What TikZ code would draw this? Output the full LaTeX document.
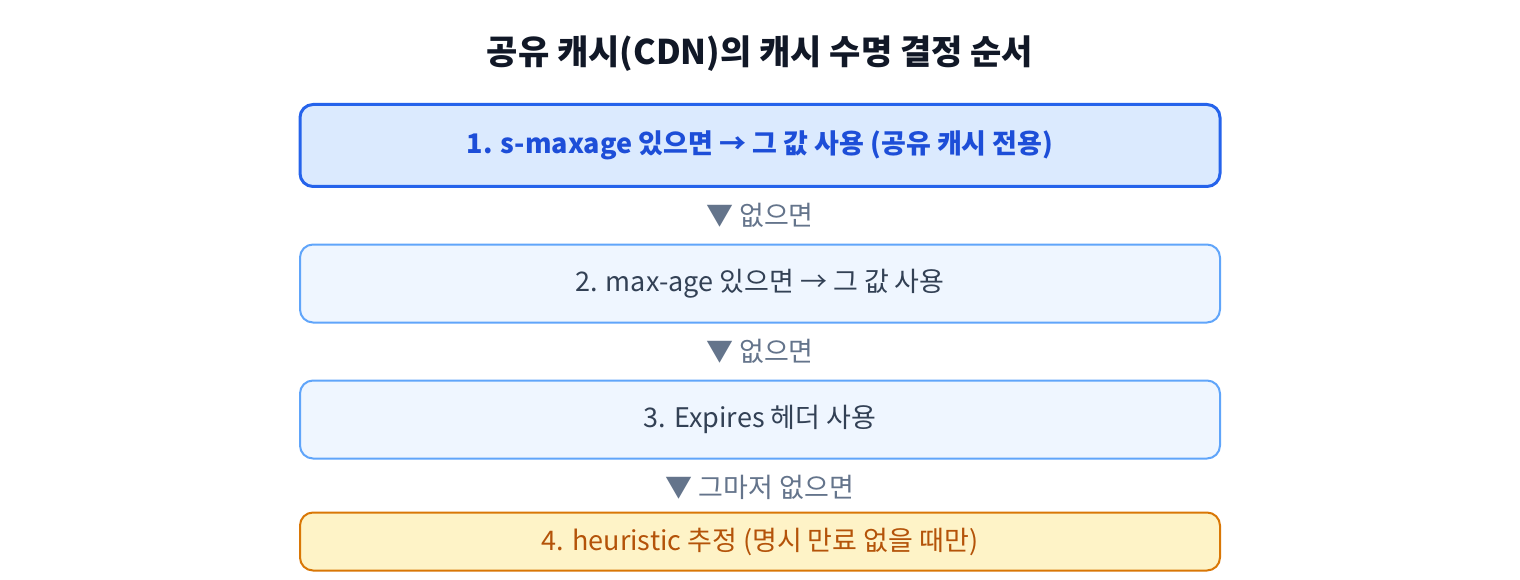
\documentclass[tikz,border=0pt]{standalone}
\usepackage{fontspec}
\setmainfont{Noto Sans CJK KR}
\definecolor{titlec}{HTML}{111827}
\definecolor{b1fill}{HTML}{DBEAFE}
\definecolor{b1draw}{HTML}{2563EB}
\definecolor{b1text}{HTML}{1D4ED8}
\definecolor{b2fill}{HTML}{EFF6FF}
\definecolor{b2draw}{HTML}{60A5FA}
\definecolor{b2text}{HTML}{334155}
\definecolor{b4fill}{HTML}{FEF3C7}
\definecolor{b4draw}{HTML}{D97706}
\definecolor{b4text}{HTML}{B45309}
\definecolor{labc}{HTML}{64748B}
\newcommand{\lowtxt}[1]{\raisebox{-2.5pt}{#1}}
\tikzset{
  stepbox/.style={rounded corners=13pt, minimum width=920pt, inner sep=0pt, font=\fontsize{27}{32}\selectfont},
  firstbox/.style={stepbox, draw=b1draw, fill=b1fill, line width=3pt, text=b1text, minimum height=82pt, font=\fontsize{27}{32}\selectfont\bfseries},
  midbox/.style={stepbox, draw=b2draw, fill=b2fill, line width=2pt, text=b2text, minimum height=78pt},
  lastbox/.style={stepbox, draw=b4draw, fill=b4fill, line width=2pt, text=b4text, minimum height=58pt},
  flowlabel/.style={text=labc, font=\fontsize{27}{32}\selectfont, inner sep=0pt}
}
\begin{document}
\begin{tikzpicture}[x=1pt,y=-1pt]
\useasboundingbox (0,0) rectangle (1520,580);
\node[text=titlec, font=\fontsize{34}{40}\selectfont\bfseries] (title) at (760,53.5) {공유 캐시(CDN)의 캐시 수명 결정 순서};
\node[firstbox] (s1) at (760,145.5) {\lowtxt{1. s-maxage 있으면 → 그 값 사용 (공유 캐시 전용)}};
\node[midbox] (s2) at (760,283.5) {\lowtxt{2. max-age 있으면 → 그 값 사용}};
\node[midbox] (s3) at (760,419.5) {\lowtxt{3. Expires 헤더 사용}};
\node[lastbox] (s4) at (760,541.5) {\lowtxt{4. heuristic 추정 (명시 만료 없을 때만)}};
\node[flowlabel] (l1) at (760,215) {▼ 없으면};
\node[flowlabel] (l2) at (760,351) {▼ 없으면};
\node[flowlabel] (l3) at (760,487) {▼ 그마저 없으면};
\end{tikzpicture}
\end{document}
